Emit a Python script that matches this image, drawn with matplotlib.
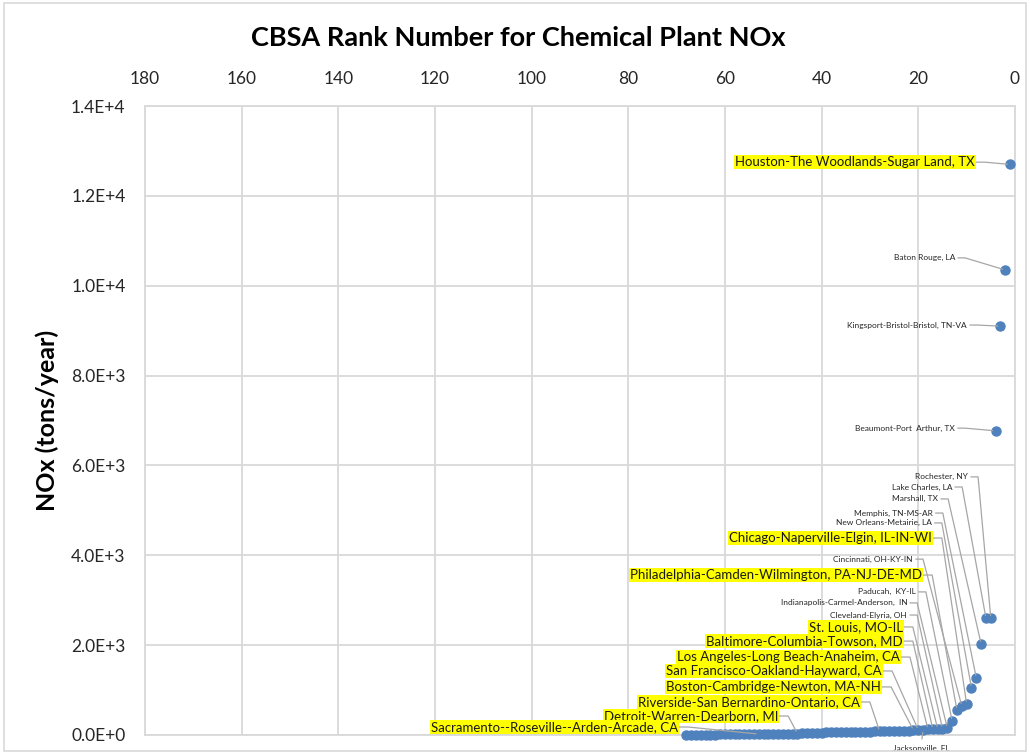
import matplotlib
matplotlib.use("Agg")
import matplotlib.pyplot as plt
from matplotlib.patches import Rectangle
from matplotlib.ticker import FuncFormatter

plt.rcParams['font.family'] = ['Lato', 'DejaVu Sans']

# rank 1..68 and NOx (tons/year)
ranks = list(range(1, 69))
nox = [12700, 10350, 9100, 6770, 2600, 2600, 2025, 1270, 1050, 690,
       645, 556, 310, 155, 140, 135, 130, 125, 120, 112,
       105, 100, 96, 92, 88, 85, 82, 80, 78, 75,
       72, 70, 68, 66, 64, 62, 60, 58, 56, 55,
       53, 52, 50, 48, 30, 28, 26, 25, 24, 23,
       22, 21, 20, 19, 18, 17, 16, 15, 14, 13,
       12, 11, 10, 9, 8, 7, 6, 5]

# labelled CBSAs and their rank
big_names = ["Houston-The Woodlands-Sugar Land, TX",
             "Chicago-Naperville-Elgin, IL-IN-WI",
             "Philadelphia-Camden-Wilmington, PA-NJ-DE-MD",
             "St. Louis, MO-IL",
             "Baltimore-Columbia-Towson, MD",
             "Los Angeles-Long Beach-Anaheim, CA",
             "San Francisco-Oakland-Hayward, CA",
             "Boston-Cambridge-Newton, MA-NH",
             "Riverside-San Bernardino-Ontario, CA",
             "Detroit-Warren-Dearborn, MI",
             "Sacramento--Roseville--Arden-Arcade, CA"]
big_ranks = [1, 10, 12, 16, 17, 18, 20, 21, 28, 45, 53]

small_names = ["Baton Rouge, LA",
               "Kingsport-Bristol-Bristol, TN-VA",
               "Beaumont-Port  Arthur, TX",
               "Rochester, NY",
               "Lake Charles, LA",
               "Marshall, TX",
               "Memphis, TN-MS-AR",
               "New Orleans-Metairie, LA",
               "Cincinnati, OH-KY-IN",
               "Paducah,  KY-IL",
               "Indianapolis-Carmel-Anderson,  IN",
               "Cleveland-Elyria, OH"]
small_ranks = [2, 3, 4, 5, 6, 7, 8, 9, 11, 13, 14, 15]

# where the label text sits (right end x, centre y) - layout only
big_pos = [(8.3, 12750), (17.2, 4385), (19.2, 3560), (23.2, 2405), (23.2, 2090),
           (23.8, 1735), (27.5, 1425), (27.7, 1070), (32.1, 735), (49.0, 423),
           (69.7, 178)]
small_pos = [(12.4, 10620), (9.9, 9125), (12.4, 6830), (9.7, 5745), (13.0, 5520),
             (15.9, 5255), (17.0, 4940), (17.2, 4720), (21.1, 3915), (20.5, 3185),
             (22.3, 2940), (22.3, 2670)]

fig = plt.figure(figsize=(10.3, 7.54), dpi=100)
ax = fig.add_axes([0.1408, 0.0252, 0.8446, 0.8342])

blue = '#4F81BD'
grid_c = '#D9D9D9'
line_c = '#A6A6A6'

ax.plot(ranks, nox, 'o', color=blue, markersize=6.5, zorder=3, clip_on=False)

ax.set_xlim(180, 0)
ax.set_ylim(0, 14000)
ax.set_xticks(range(0, 181, 20))
ax.set_yticks(range(0, 14001, 2000))
ax.xaxis.tick_top()
ax.yaxis.set_major_formatter(FuncFormatter(
    lambda v, p: '0.0E+0' if v == 0 else '%.1fE+%d' % (v / 10 ** int(len(str(int(v))) - 1), len(str(int(v))) - 1)))
ax.tick_params(axis='both', length=0, labelsize=12.5, colors='#262626')
ax.tick_params(axis='y', pad=14)
ax.tick_params(axis='x', pad=14)
ax.grid(True, color=grid_c, lw=1.3)
ax.set_axisbelow(True)
for s in ax.spines.values():
    s.set_color(grid_c)
    s.set_linewidth(1.3)

ax.set_ylabel('NOx (tons/year)', fontsize=18, fontweight='bold', labelpad=9)
fig.text(0.5035, 0.949, 'CBSA Rank Number for Chemical Plant NOx', ha='center', va='center',
         fontsize=19.5, fontweight='bold')

leader = dict(arrowstyle='-', color=line_c, lw=0.9, shrinkA=0, shrinkB=2,
              connectionstyle='arc,angleA=0,armA=10,angleB=0,armB=0,rad=0', relpos=(1, 0.5))

for i, (name, r, (tx, ty)) in enumerate(zip(big_names, big_ranks, big_pos)):
    ax.annotate(name, xy=(r, nox[r - 1]), xytext=(tx, ty), ha='right', va='center',
                fontsize=9.5, color='#1a1a1a', annotation_clip=False,
                bbox=dict(boxstyle='square,pad=0.08', fc='#FFFF00', ec='none'),
                arrowprops=leader, zorder=4 + i * 0.01)

for name, r, (tx, ty) in zip(small_names, small_ranks, small_pos):
    ax.annotate(name, xy=(r, nox[r - 1]), xytext=(tx, ty), ha='right', va='center',
                fontsize=6, color='#262626', annotation_clip=False,
                arrowprops=leader, zorder=4)

ax.annotate('Jacksonville, FL', xy=(19, nox[18]), xytext=(19.4, -290), ha='center', va='center',
            fontsize=6, color='#262626', annotation_clip=False,
            arrowprops=dict(arrowstyle='-', color=line_c, lw=0.9, shrinkA=2, shrinkB=2,
                            relpos=(0.5, 1)), zorder=4)

fig.patches.append(Rectangle((0.004, 0.004), 0.992, 0.992, transform=fig.transFigure,
                             fill=False, ec='#D9D9D9', lw=1.2))

fig.savefig('out.png', dpi=100)
